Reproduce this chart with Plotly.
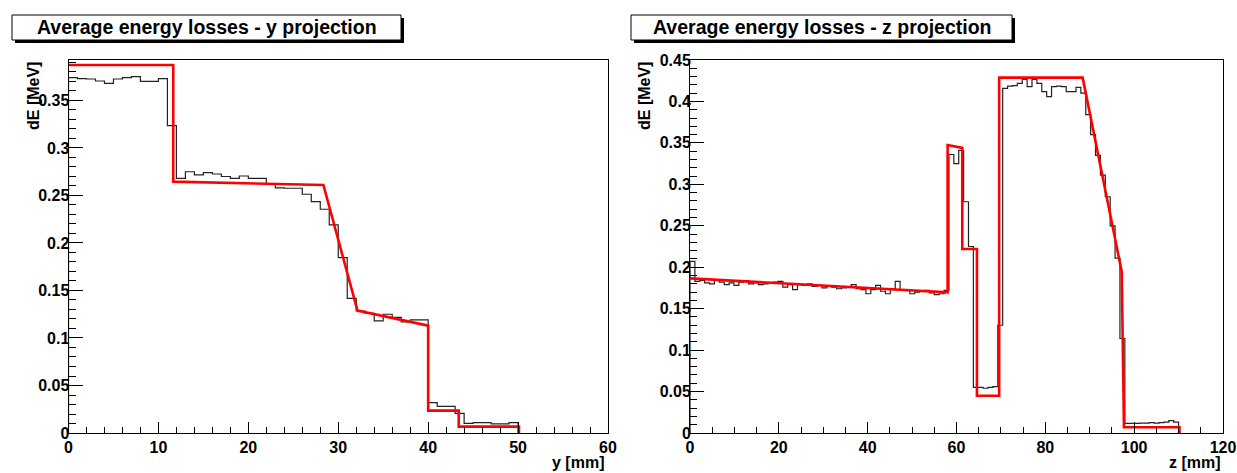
import numpy as np
import plotly.graph_objects as go

W, H = 1237, 473

# ---------------- data: y projection (1 mm bins, 0..50 mm) ----------------
y_bin_width = 1.0
y_hist = [0.374, 0.373, 0.3726, 0.3705, 0.368, 0.3726, 0.374, 0.375, 0.370, 0.370,
          0.373, 0.3235, 0.268, 0.275, 0.2716, 0.274, 0.2726, 0.270, 0.268, 0.2705,
          0.268, 0.268, 0.262, 0.258, 0.2576, 0.2576, 0.2513, 0.2435, 0.2355, 0.219,
          0.1845, 0.1418, 0.1284, 0.126, 0.118, 0.125, 0.1218, 0.117, 0.119, 0.119,
          0.032, 0.028, 0.028, 0.0207, 0.0102, 0.011, 0.011, 0.0095, 0.0095, 0.011]
y_fit_x = [0, 11.65, 11.65, 28.35, 32.14, 40.0, 40.0, 43.4, 43.4, 50.1, 50.1]
y_fit_v = [0.3874, 0.3874, 0.2646, 0.261, 0.1288, 0.113, 0.0235, 0.0235, 0.0067, 0.0067, 0.0]

# ---------------- data: z projection (1.1 mm bins, 0..110 mm) ----------------
z_bin_width = 1.1
z_hist = [0.207, 0.183, 0.184, 0.181, 0.180, 0.184, 0.182, 0.179, 0.181, 0.178,
          0.182, 0.184, 0.180, 0.181, 0.179, 0.180, 0.181, 0.182, 0.183, 0.176,
          0.179, 0.173, 0.179, 0.178, 0.180, 0.177, 0.178, 0.175, 0.177, 0.176,
          0.174, 0.175, 0.176, 0.179, 0.174, 0.173, 0.168, 0.173, 0.178, 0.171,
          0.168, 0.174, 0.183, 0.172, 0.173, 0.168, 0.170, 0.171, 0.172, 0.169,
          0.167, 0.168, 0.172, 0.336, 0.325, 0.341, 0.279, 0.225, 0.055, 0.055,
          0.054, 0.055, 0.056, 0.130, 0.4158, 0.4186, 0.4190, 0.4219, 0.4267, 0.4178,
          0.4267, 0.4219, 0.4118, 0.4057, 0.4178, 0.4186, 0.4178, 0.4118, 0.4118, 0.4170,
          0.410, 0.384, 0.360, 0.335, 0.311, 0.285, 0.250, 0.211, 0.114, 0.0117,
          0.0117, 0.0115, 0.012, 0.012, 0.0125, 0.012, 0.0125, 0.013, 0.0149, 0.013]
z_fit_x = [0, 58.0, 58.0, 61.3, 61.3, 64.6, 64.6, 69.6, 69.6, 88.4, 97.2, 97.7, 110.2, 110.2]
z_fit_v = [0.1866, 0.1697, 0.3474, 0.344, 0.222, 0.222, 0.045, 0.045, 0.4287, 0.4287, 0.1946, 0.0069, 0.0069, 0.0]

titles = ["Average energy losses - y projection", "Average energy losses - z projection"]
y_title = "dE [MeV]"
x_titles = ["y [mm]", "z [mm]"]


def step_xy(values, width):
    v = np.asarray(values, dtype=float)
    edges = np.arange(len(v) + 1) * width
    xs = np.concatenate([[edges[0]], edges[:-1], [edges[-1], edges[-1]]])
    ys = np.concatenate([[0.0], v, [v[-1], 0.0]])
    return xs, ys


fig = go.Figure()

hx, hy = step_xy(y_hist, y_bin_width)
fig.add_trace(go.Scatter(x=hx, y=hy, mode="lines", line=dict(color="#222222", width=1.2, shape="hv"),
                         xaxis="x", yaxis="y", showlegend=False))
fig.add_trace(go.Scatter(x=y_fit_x, y=y_fit_v, mode="lines", line=dict(color="#ff0000", width=2.6),
                         xaxis="x", yaxis="y", showlegend=False))
hx2, hy2 = step_xy(z_hist, z_bin_width)
fig.add_trace(go.Scatter(x=hx2, y=hy2, mode="lines", line=dict(color="#222222", width=1.2, shape="hv"),
                         xaxis="x2", yaxis="y2", showlegend=False))
fig.add_trace(go.Scatter(x=z_fit_x, y=z_fit_v, mode="lines", line=dict(color="#ff0000", width=2.6),
                         xaxis="x2", yaxis="y2", showlegend=False))

FONT = "Liberation Sans, Arial, Helvetica, sans-serif"
tickfont = dict(family=FONT, size=16, color="black", weight="bold")


def px(x):
    return x / W


def py(y):
    return 1 - y / H


ydom = [py(433), py(60)]
common_x = dict(ticks="inside", ticklen=11, tickwidth=1, tickcolor="black", showline=True,
                linecolor="black", linewidth=1, mirror=True, showgrid=False, zeroline=False,
                tickfont=tickfont, tick0=0, automargin=False)
common_y = dict(ticks="inside", ticklen=14, tickwidth=1, tickcolor="black", showline=True,
                linecolor="black", linewidth=1, mirror=True, showgrid=False, zeroline=False,
                tickfont=tickfont, tick0=0, dtick=0.05, automargin=False, ticklabelstandoff=-5,
                minor=dict(ticks="inside", ticklen=7, dtick=0.01, tickcolor="black", showgrid=False))

fig.update_layout(
    width=W, height=H, margin=dict(l=0, r=0, t=0, b=0, pad=0), autosize=False,
    paper_bgcolor="white", plot_bgcolor="white", showlegend=False,
    xaxis=dict(domain=[px(68.5), px(608)], range=[0, 60], dtick=10, anchor="y",
               minor=dict(ticks="inside", ticklen=6, dtick=2, tickcolor="black", showgrid=False),
               **common_x),
    yaxis=dict(domain=ydom, range=[0, 0.3926], anchor="x", **common_y),
    xaxis2=dict(domain=[px(690), px(1223)], range=[0, 120], dtick=20, anchor="y2",
                minor=dict(ticks="inside", ticklen=6, dtick=5, tickcolor="black", showgrid=False),
                **common_x),
    yaxis2=dict(domain=ydom, range=[0, 0.45], anchor="x2", **common_y),
)

shapes = []
annots = []
boxes = [(12, 401), (631, 1012)]
for (bx0, bx1), t in zip(boxes, titles):
    shapes.append(dict(type="rect", xref="paper", yref="paper", x0=px(bx0 + 3), x1=px(bx1 + 3),
                       y0=py(40 + 3), y1=py(15 + 3), fillcolor="black", line=dict(width=0)))
    shapes.append(dict(type="rect", xref="paper", yref="paper", x0=px(bx0), x1=px(bx1),
                       y0=py(40), y1=py(15), fillcolor="white", line=dict(color="black", width=1)))
    annots.append(dict(text=t, xref="paper", yref="paper", x=px((bx0 + bx1) / 2), y=py(27.5),
                       xanchor="center", yanchor="middle", showarrow=False,
                       font=dict(family=FONT, size=19.5, color="black", weight="bold")))

for xc in (33, 644):
    annots.append(dict(text=y_title, xref="paper", yref="paper", x=px(xc), y=py(60),
                       xanchor="center", yanchor="top", textangle=-90, showarrow=False,
                       font=dict(family=FONT, size=16, color="black", weight="bold")))

for xr, t in zip((606, 1223), x_titles):
    annots.append(dict(text=t, xref="paper", yref="paper", x=px(xr), y=py(473),
                       xanchor="right", yanchor="bottom", showarrow=False,
                       font=dict(family=FONT, size=16, color="black", weight="bold")))

fig.update_layout(shapes=shapes, annotations=annots)
fig.write_html("out.html",
               post_script="document.body.style.margin='0';document.body.style.overflow='hidden';")
